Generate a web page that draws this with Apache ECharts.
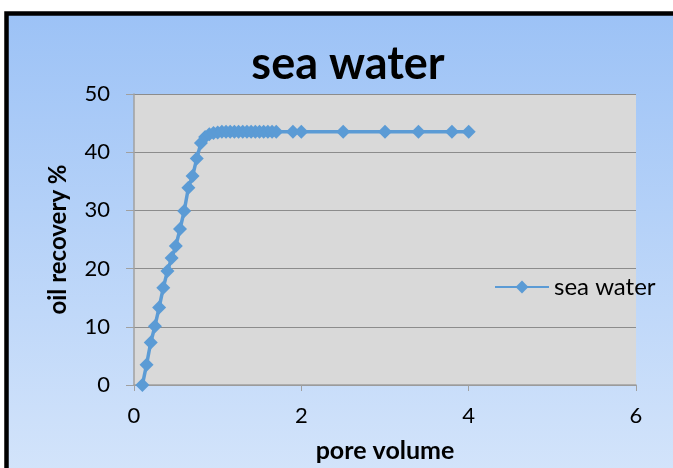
<!DOCTYPE html>
<html><head><meta charset="utf-8">
<script src="https://cdn.jsdelivr.net/npm/echarts@6/dist/echarts.min.js"></script>
<style>html,body{margin:0;padding:0;background:#fff}#c{width:673px;height:468px}</style>
</head><body><div id="c"></div>
<script>
const titleText = "sea water";
const seriesName = "sea water";
const xTitle = "pore volume";
const yTitle = "oil recovery %";
const poreVolume = [0.1,0.15,0.2,0.25,0.3,0.35,0.4,0.45,0.5,0.55,0.6,0.65,0.7,0.75,0.8,0.85,0.9,0.95,1.0,1.05,1.1,1.15,1.2,1.25,1.3,1.35,1.4,1.45,1.5,1.55,1.6,1.65,1.7,1.9,2.0,2.5,3.0,3.4,3.8,4.0];
const oilRecovery = [0,3.5,7.3,10.1,13.3,16.7,19.6,21.8,23.9,26.8,29.9,33.9,35.9,38.9,41.6,42.6,43.1,43.3,43.4,43.5,43.5,43.5,43.5,43.5,43.5,43.5,43.5,43.5,43.5,43.5,43.5,43.5,43.5,43.5,43.5,43.5,43.5,43.5,43.5,43.5];
const data = poreVolume.map((x,i)=>[x, oilRecovery[i]]);
const chart = echarts.init(document.getElementById('c'), null, {renderer:'canvas'});
const font = 'Lato, "Open Sans", sans-serif';
chart.setOption({
  animation:false,
  backgroundColor:'#ffffff',
  graphic:[{
    type:'rect', z:-10, silent:true,
    shape:{x:6.5,y:13.5,width:700,height:500},
    style:{fill:new echarts.graphic.LinearGradient(0,0,0,1,[{offset:0,color:'#9cc2f6'},{offset:1,color:'#d8e7fb'}]),stroke:'#000',lineWidth:4.5}
  }],
  title:{text:titleText,left:343,textAlign:'center',top:37,textStyle:{fontFamily:font,fontWeight:'bold',fontSize:45,color:'#000'}},
  grid:{left:134,right:37,top:94,bottom:81,show:true,backgroundColor:'#d9d9d9',borderWidth:0},
  legend:{show:true,left:489,top:270,itemWidth:54,itemHeight:16,itemGap:4,textStyle:{fontFamily:font,fontSize:24,color:'#000',padding:[0,0,0,0]},data:[{name:seriesName}]},
  xAxis:{type:'value',min:0,max:6,interval:2,name:xTitle,nameLocation:'middle',nameGap:53,
    nameTextStyle:{fontFamily:font,fontWeight:'bold',fontSize:25,color:'#000'},
    axisLine:{show:true,lineStyle:{color:'#a0a0a0',width:1.5}},axisTick:{show:true,length:6,lineStyle:{color:'#a0a0a0'}},
    axisLabel:{fontFamily:font,fontSize:22,color:'#000',margin:20},splitLine:{show:false}},
  yAxis:{type:'value',min:0,max:50,interval:10,name:yTitle,nameLocation:'middle',nameGap:64,
    nameTextStyle:{fontFamily:font,fontWeight:'bold',fontSize:24,color:'#000'},
    axisLine:{show:true,lineStyle:{color:'#a0a0a0',width:1.5}},axisTick:{show:true,length:8,lineStyle:{color:'#a0a0a0'}},
    axisLabel:{fontFamily:font,fontSize:22,color:'#000',margin:24},splitLine:{show:true,lineStyle:{color:'#8c8c8c',width:1.2}}},
  series:[{type:'line',name:seriesName,data:data,symbol:'diamond',symbolSize:14,showSymbol:true,
    lineStyle:{color:'#5b9bd5',width:3.5},itemStyle:{color:'#5b9bd5'}}]
});
</script></body></html>
